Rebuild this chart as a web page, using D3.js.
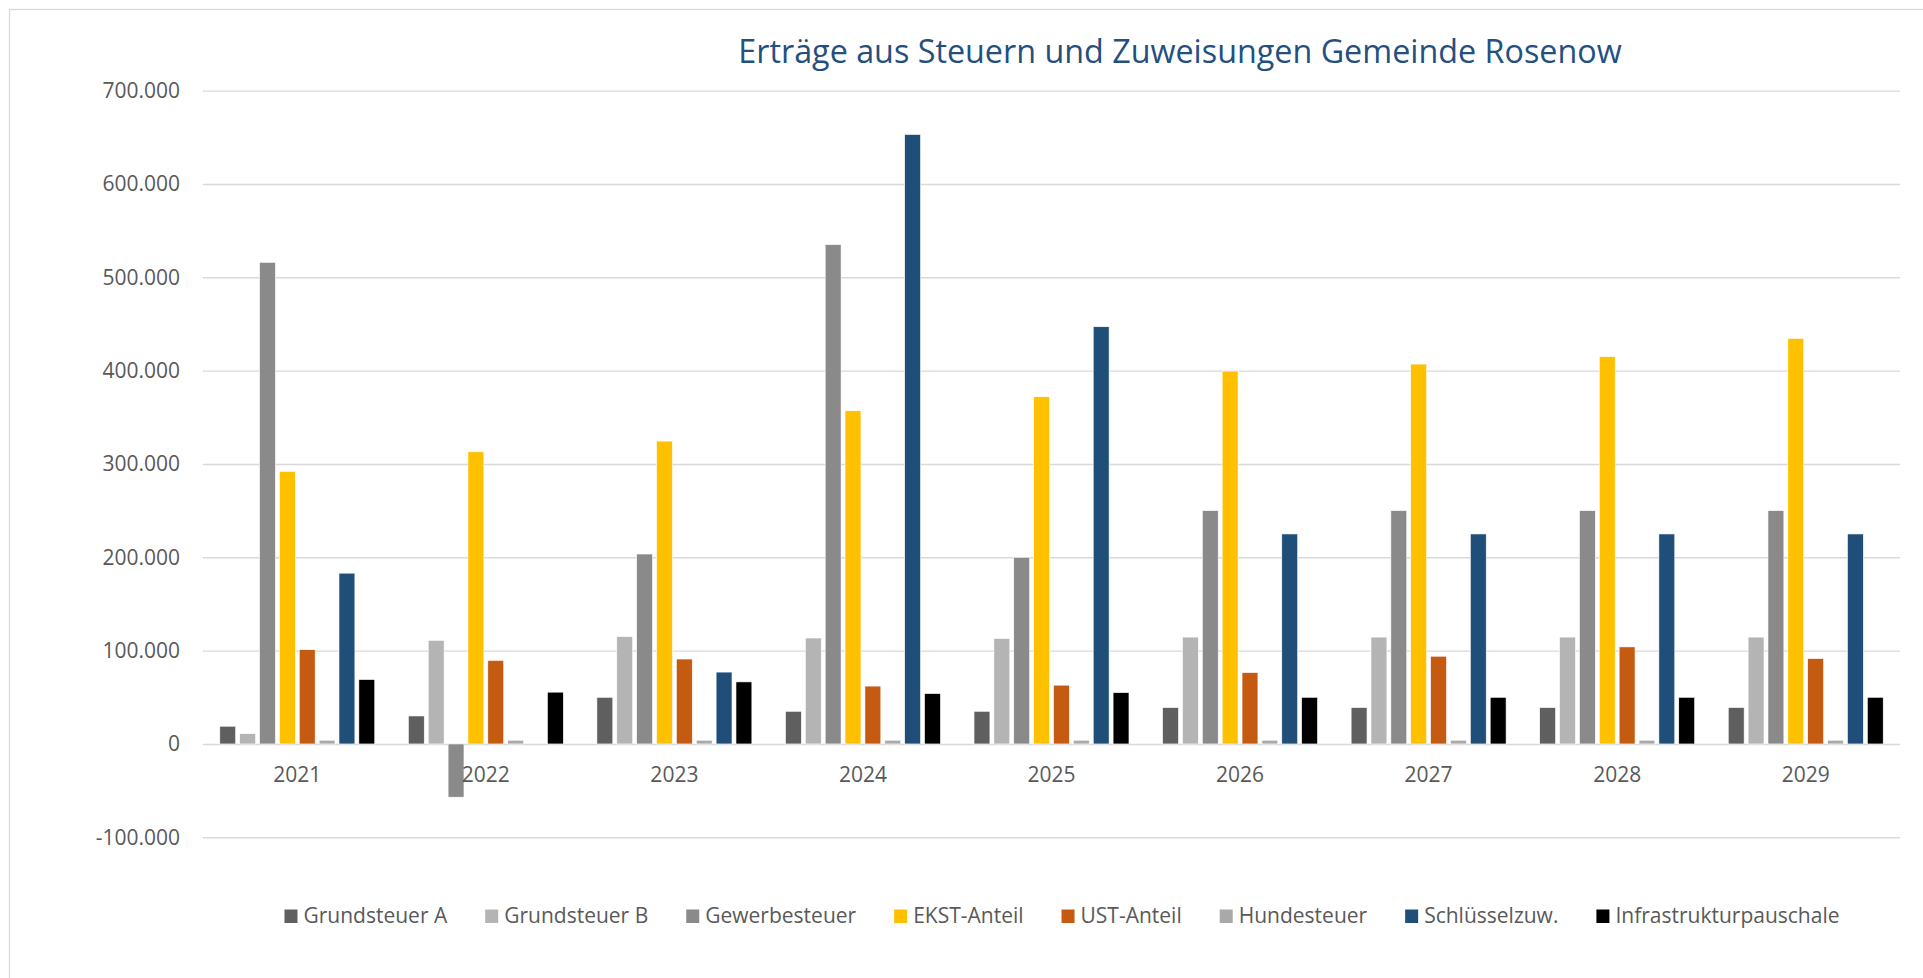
<!DOCTYPE html>
<html>
<head>
<meta charset="utf-8">
<script src="https://cdn.jsdelivr.net/npm/d3@7"></script>
<style>
    body { margin: 0; background: #fff; }
    svg { display: block; font-family: "Open Sans", sans-serif; }
</style>
</head>
<body>
<svg id="chart"></svg>
<script>
// categories
const years = ['2021', '2022', '2023', '2024', '2025', '2026', '2027', '2028', '2029'];
const seriesNames = ['Grundsteuer A', 'Grundsteuer B', 'Gewerbesteuer', 'EKST-Anteil', 'UST-Anteil', 'Hundesteuer', 'Schlüsselzuw.', 'Infrastrukturpauschale'];
const seriesColors = ['#5f5f5f', '#b4b4b4', '#8a8a8a', '#ffc000', '#c55a11', '#a9a9a9', '#1f4e79', '#000000'];

// values, per series (one per year)
const grundsteuerA = [19000, 30000, 50000, 35000, 35000, 39000, 39000, 39000, 39000];
const grundsteuerB = [11000, 111000, 115000, 113500, 113000, 114500, 114500, 114500, 114500];
const gewerbesteuer = [516000, -57000, 203500, 535000, 200000, 250000, 250000, 250000, 250000];
const ekstAnteil = [292000, 313000, 324500, 357000, 372000, 399500, 407000, 415000, 434500];
const ustAnteil = [101000, 89500, 91000, 62000, 63000, 76500, 94000, 104000, 91500];
const hundesteuer = [4000, 4000, 4000, 4000, 4000, 4000, 4000, 4000, 4000];
const schluesselzuw = [183000, 0, 77000, 653000, 447000, 225000, 225000, 225000, 225000];
const infrastruktur = [69000, 55500, 66500, 54000, 55000, 50000, 50000, 50000, 50000];

const yTicks = [-100000, 0, 100000, 200000, 300000, 400000, 500000, 600000, 700000];
const titleText = 'Erträge aus Steuern und Zuweisungen Gemeinde Rosenow';

const allSeries = [grundsteuerA, grundsteuerB, gewerbesteuer, ekstAnteil, ustAnteil, hundesteuer, schluesselzuw, infrastruktur];

// table: one row per year
let table = years.map((y, i) => ({
    year: y,
    values: seriesNames.map((s, j) => ({ name: s, value: allSeries[j][i], color: seriesColors[j] }))
}));

const width = 1923;
const height = 978;
const plotLeft = 203;
const plotRight = 1900;

// german number format
const de = d3.formatLocale({ decimal: ',', thousands: '.', grouping: [3], currency: ['', ' €'], minus: '-' });
const fmt = de.format(',.0f');

let svg = d3.select('#chart').attr('width', width).attr('height', height);

// chart area border
svg.append('rect')
    .attr('x', 9.5).attr('y', 9.5)
    .attr('width', width + 20).attr('height', height + 20)
    .attr('fill', '#fff')
    .attr('stroke', '#d9d9d9')
    .attr('stroke-width', 1.3);

// title
svg.append('text')
    .attr('x', 1180)
    .attr('y', 63)
    .attr('text-anchor', 'middle')
    .attr('font-size', 32.3)
    .attr('fill', '#24507f')
    .text(titleText);

let yScale = d3.scaleLinear().domain([-100000, 700000]).range([837.3, 90.6]);
let x0 = d3.scaleBand().domain(years).range([plotLeft, plotRight]).padding(0);
let groupGap = 16.8;
let x1 = d3.scaleBand().domain(seriesNames).range([groupGap, x0.bandwidth() - groupGap]).paddingInner(0.2);

// gridlines
let grid = svg.append('g')
    .attr('transform', `translate(${plotLeft},0)`)
    .call(d3.axisLeft(yScale).tickValues(yTicks).tickSize(-(plotRight - plotLeft)).tickFormat(''));
grid.select('.domain').remove();
grid.selectAll('line').attr('stroke', '#d9d9d9').attr('stroke-width', 1.4);

// y axis labels
let yAxis = svg.append('g')
    .attr('transform', `translate(${plotLeft},0)`)
    .call(d3.axisLeft(yScale).tickValues(yTicks).tickSize(0).tickPadding(23).tickFormat(fmt));
yAxis.select('.domain').remove();
yAxis.selectAll('text')
    .attr('font-family', '"Open Sans", sans-serif')
    .attr('font-size', 21)
    .attr('fill', '#595959');

// bars
let groups = svg.append('g').selectAll('g')
    .data(table)
    .join('g')
    .attr('transform', d => `translate(${x0(d.year)},0)`);

groups.selectAll('rect')
    .data(d => d.values.filter(v => v.value !== 0))
    .join('rect')
    .attr('x', d => x1(d.name))
    .attr('width', x1.bandwidth())
    .attr('y', d => yScale(Math.max(0, d.value)))
    .attr('height', d => Math.abs(yScale(d.value) - yScale(0)))
    .attr('fill', d => d.color)
    .attr('stroke', '#ffffff')
    .attr('stroke-width', 0.6);

// x axis labels (drawn after bars)
let xAxis = svg.append('g')
    .attr('transform', `translate(0,${yScale(0)})`)
    .call(d3.axisBottom(x0).tickSize(0).tickPadding(23.5));
xAxis.select('.domain').remove();
xAxis.selectAll('text')
    .attr('font-family', '"Open Sans", sans-serif')
    .attr('font-size', 21)
    .attr('fill', '#595959');

// legend
let legend = svg.append('g').attr('transform', 'translate(0,923)');
let items = legend.selectAll('g')
    .data(seriesNames)
    .join('g');
items.append('rect')
    .attr('y', -13.5)
    .attr('width', 13)
    .attr('height', 13.5)
    .attr('fill', (d, i) => seriesColors[i]);
items.append('text')
    .attr('x', 19)
    .attr('font-size', 21)
    .attr('fill', '#595959')
    .text(d => d);

let gap = 38;
let offset = 0;
let positions = [];
items.each(function () {
    positions.push(offset);
    let w = d3.select(this).select('text').node().getComputedTextLength();
    offset += 19 + w + gap;
});
let totalWidth = offset - gap;
let legendStart = 1062 - totalWidth / 2;
items.attr('transform', (d, i) => `translate(${legendStart + positions[i]},0)`);
</script>
</body>
</html>
